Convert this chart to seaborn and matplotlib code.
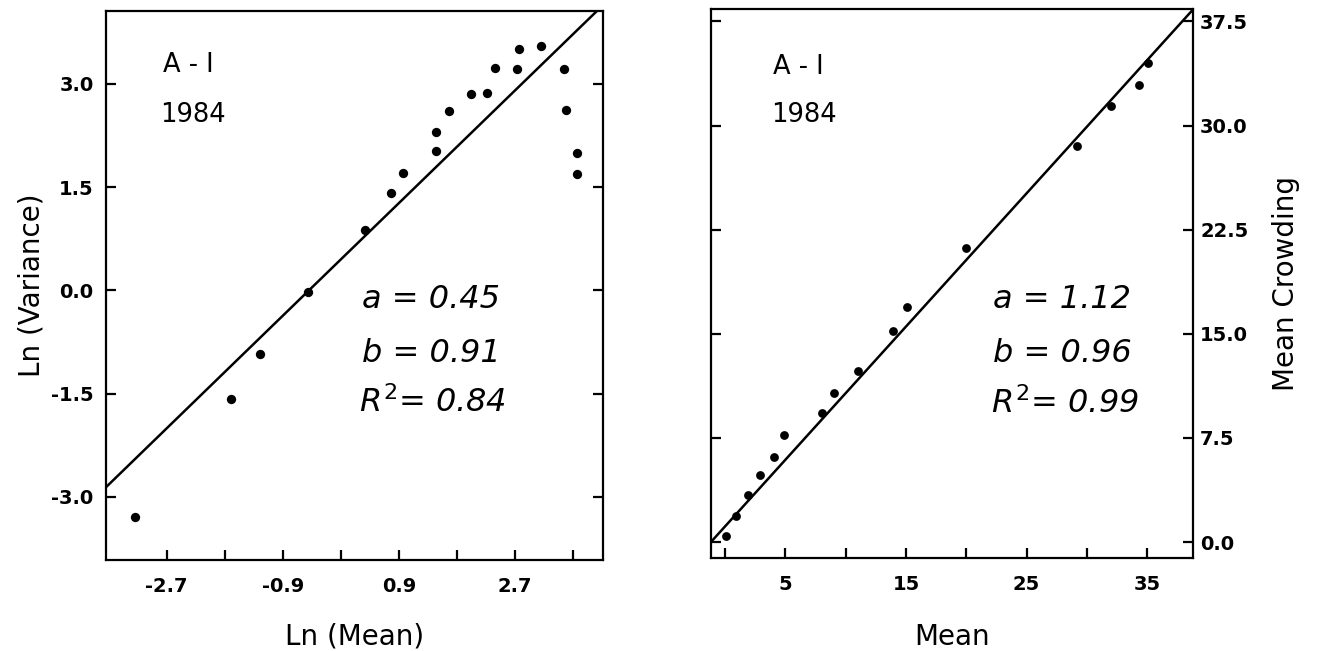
import numpy as np
import pandas as pd
import matplotlib
matplotlib.use("Agg")
import matplotlib.pyplot as plt
import seaborn as sns

# ==============================
# DATA
# ==============================
ln_mean = [2.76, 3.10, 2.39, 2.73, 3.46, 2.02, 2.27, 1.67, 3.49, 1.47,
           1.48, 3.66, 3.66, 0.97, 0.77, 0.37, -0.51, -1.25, -1.71, -3.19]
ln_var = [3.51, 3.55, 3.23, 3.22, 3.22, 2.85, 2.87, 2.61, 2.62, 2.30,
          2.03, 2.00, 1.69, 1.71, 1.42, 0.88, -0.02, -0.92, -1.58, -3.29]

mean_vals = [35.1, 34.3, 32.0, 29.2, 20.0, 15.1, 13.9, 11.0, 9.0, 8.0,
             4.9, 4.06, 2.9, 1.9, 0.9, 0.1]
crowding = [34.5, 32.9, 31.4, 28.5, 21.2, 16.9, 15.2, 12.3, 10.7, 9.3,
            7.7, 6.1, 4.8, 3.4, 1.9, 0.4]

left_fit = {"a": 0.45, "b": 0.91, "r2": 0.84}
right_fit = {"a": 1.12, "b": 0.96, "r2": 0.99}

left_xticks = [-2.7, -1.8, -0.9, 0.0, 0.9, 1.8, 2.7, 3.6]
left_xlabels = ["-2.7", "", "-0.9", "", "0.9", "", "2.7", ""]
left_yticks = [-3.0, -1.5, 0.0, 1.5, 3.0]
left_ylabels = ["-3.0", "-1.5", "0.0", "1.5", "3.0"]

right_xticks = [0, 5, 10, 15, 20, 25, 30, 35]
right_xlabels = ["", "5", "", "15", "", "25", "", "35"]
right_yticks = [0.0, 7.5, 15.0, 22.5, 30.0, 37.5]
right_ylabels = ["0.0", "7.5", "15.0", "22.5", "30.0", "37.5"]

# ==============================
# STYLE
# ==============================
sns.set_style("ticks")
plt.rcParams["font.family"] = ["DejaVu Sans"]
plt.rcParams["axes.unicode_minus"] = False
plt.rcParams["mathtext.fontset"] = "dejavusans"
plt.rcParams["text.color"] = "black"
plt.rcParams["axes.labelcolor"] = "black"

fig = plt.figure(figsize=(13.28, 6.51), dpi=100)
ax1 = fig.add_axes([0.0798, 0.1398, 0.3742, 0.8433])
ax2 = fig.add_axes([0.5354, 0.1429, 0.3630, 0.8433])


def style_axes(ax):
    for sp in ax.spines.values():
        sp.set_linewidth(1.6)
        sp.set_color("black")
    ax.tick_params(direction="in", length=7, width=1.6, colors="black",
                   labelsize=14)
    for lab in ax.get_xticklabels() + ax.get_yticklabels():
        lab.set_fontweight("bold")


def add_text(ax, header_pos, stats_x, stats_y, fit):
    (hx1, hy1), (hx2, hy2) = header_pos
    ax.text(hx1, hy1, "A - I", transform=ax.transAxes, fontsize=18.5, va="center")
    ax.text(hx2, hy2, "1984", transform=ax.transAxes, fontsize=18.5, va="center")
    ax.text(stats_x, stats_y[0], "a = %.2f" % fit["a"], transform=ax.transAxes,
            fontsize=23, style="italic", va="center")
    ax.text(stats_x, stats_y[1], "b = %.2f" % fit["b"], transform=ax.transAxes,
            fontsize=23, style="italic", va="center")
    ax.text(stats_x - 0.005, stats_y[2], r"$R^2$= %.2f" % fit["r2"],
            transform=ax.transAxes, fontsize=23, style="italic", va="center")


# ==============================
# LEFT PANEL
# ==============================
df_l = pd.DataFrame({"x": ln_mean, "y": ln_var})
sns.scatterplot(data=df_l, x="x", y="y", ax=ax1, color="black", s=45,
                edgecolor="black", linewidth=0, zorder=3)
xl = np.array([-3.64, 4.06])
ax1.plot(xl, left_fit["a"] + left_fit["b"] * xl, color="black", lw=1.8)
ax1.set_xlim(-3.64, 4.06)
ax1.set_ylim(-3.92, 4.06)
ax1.set_xticks(left_xticks)
ax1.set_xticklabels(left_xlabels)
ax1.set_yticks(left_yticks)
ax1.set_yticklabels(left_ylabels)
ax1.tick_params(axis="y", which="both", left=True, right=True, pad=9)
ax1.tick_params(axis="x", pad=12)
style_axes(ax1)
ax1.set_xlabel("Ln (Mean)", fontsize=20, labelpad=19)
ax1.set_ylabel("Ln (Variance)", fontsize=20, labelpad=4)
add_text(ax1, [(0.115, 0.902), (0.108, 0.81)], 0.515,
         [0.474, 0.377, 0.286], left_fit)

# ==============================
# RIGHT PANEL
# ==============================
df_r = pd.DataFrame({"x": mean_vals, "y": crowding})
sns.scatterplot(data=df_r, x="x", y="y", ax=ax2, color="black", s=40,
                edgecolor="black", linewidth=0, zorder=3)
xr = np.array([-1.16, 38.8])
ax2.plot(xr, right_fit["a"] + right_fit["b"] * xr, color="black", lw=1.8)
ax2.set_xlim(-1.16, 38.8)
ax2.set_ylim(-1.15, 38.4)
ax2.set_xticks(right_xticks)
ax2.set_xticklabels(right_xlabels)
ax2.set_yticks(right_yticks)
ax2.set_yticklabels(right_ylabels)
ax2.yaxis.set_label_position("right")
ax2.tick_params(axis="y", which="both", left=True, right=True,
                labelleft=False, labelright=True, pad=5)
ax2.tick_params(axis="x", pad=12)
style_axes(ax2)
ax2.set_xlabel("Mean", fontsize=20, labelpad=21)
ax2.set_ylabel("Mean Crowding", fontsize=20, labelpad=17, rotation=90)
add_text(ax2, [(0.129, 0.894), (0.124, 0.807)], 0.585,
         [0.47, 0.373, 0.282], right_fit)

fig.savefig("out.png", dpi=100)
